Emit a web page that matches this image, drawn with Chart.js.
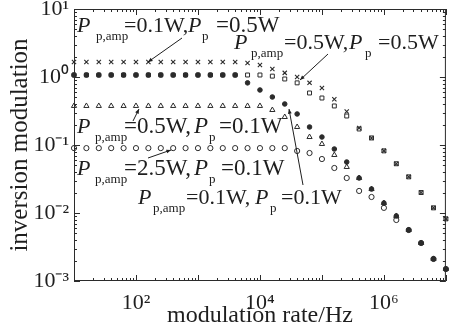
<!DOCTYPE html>
<html><head><meta charset="utf-8">
<script src="https://cdn.jsdelivr.net/npm/chart.js@4.4.1/dist/chart.umd.min.js"></script>
<style>html,body{margin:0;padding:0;background:#fff}</style>
</head><body>
<canvas id="c" width="451" height="328"></canvas>
<script>
// modulation rate (Hz), 0.2-decade steps
const freqHz = [10, 15.85, 25.12, 39.81, 63.1, 100, 158.5, 251.2, 398.1, 631, 1000, 1585, 2512, 3981, 6310,
  1e4, 15850, 25120, 39810, 63100, 1e5, 158500, 251200, 398100, 631000, 1e6, 1585000, 2512000, 3981000, 6310000, 1e7];
// Pp,amp=0.1W, Pp=0.5W  (x)
const seriesAmp01Pp05 = [1.66,1.66,1.66,1.66,1.66,1.66,1.66,1.66,1.66,1.66,1.66,1.66,1.66,1.66,
  1.61,1.50,1.31,1.15,1.0,0.82,0.69,0.47,0.31,0.178,0.127,0.082,0.053,0.034,0.020,0.0119,0.0082];
// Pp,amp=0.5W, Pp=0.5W  (square)
const seriesAmp05Pp05 = [1.07,1.07,1.07,1.07,1.07,1.07,1.07,1.07,1.07,1.07,1.07,1.07,1.07,1.07,1.07,1.07,
  1.03,0.935,0.82,0.582,0.491,0.375,0.267,0.172,0.127,0.082,0.053,0.034,0.020,0.0119,0.0082];
// Pp,amp=0.1W, Pp=0.1W  (filled dot)
const seriesAmp01Pp01 = [1.07,1.07,1.07,1.07,1.07,1.07,1.07,1.07,1.07,1.07,1.07,1.07,1.07,1.07,
  0.82,0.644,0.508,0.401,0.286,0.184,0.131,0.0873,0.0562,0.0327,0.0225,0.0140,0.00904,0.00562,0.00362,0.00211,0.00150];
// Pp,amp=0.5W, Pp=0.1W  (triangle)
const seriesAmp05Pp01 = [0.375,0.375,0.375,0.375,0.375,0.375,0.375,0.375,0.375,0.375,0.375,0.375,0.375,0.375,0.375,0.375,
  0.327,0.258,0.184,0.131,0.1035,0.0713,0.0475,0.0327,0.0225,0.0140,0.00904,0.00562,0.00362,0.00211,0.00150];
// Pp,amp=2.5W, Pp=0.1W  (open circle)
const seriesAmp25Pp01 = [0.090,0.090,0.090,0.090,0.090,0.090,0.090,0.090,0.090,0.090,0.090,0.090,0.090,0.090,0.090,0.090,0.090,0.090,
  0.0817,0.0762,0.0622,0.0459,0.0327,0.0211,0.0172,0.0119,0.00789,0.00562,0.00362,0.00211,0.00150];

const xTickLabels = {2:'10²', 4:'10⁴', 6:'10⁶'};
const yTickLabels = {1:'10¹', 0:'10⁰', '-1':'10⁻¹', '-2':'10⁻²', '-3':'10⁻³'};
const xTitle = 'modulation rate/Hz';
const yTitle = 'inversion modulation';

// annotation texts: [text, style(i=italic, n=normal, s=subscript), x, fontSize]
const annotations = [
  {y:32, parts:[['P','i',77,22],['p,amp','s',96,13],['=0.1W,','n',124,22],['P','i',188,22],['p','s',202,13],['=0.5W','n',216,23]], arrow:[182,38,148,62]},
  {y:49, parts:[['P','i',234,22],['p,amp','s',251,13],['=0.5W,','n',284,22],['P','i',349,22],['p','s',365,13],['=0.5W','n',378,22]], arrow:[328,54,300,80]},
  {y:133, parts:[['P','i',77,22],['p,amp','s',95,13],['=0.5W,','n',124,23],['P','i',194,23],['p','s',209,13],['=0.1W','n',219,23]], arrow:[133,121,139,109]},
  {y:175, parts:[['P','i',77,22],['p,amp','s',95,13],['=2.5W,','n',124,23],['P','i',194,23],['p','s',209,13],['=0.1W','n',221,23]], arrow:[148,158,171,150]},
  {y:204, parts:[['P','i',138,22],['p,amp','s',153,13],['=0.1W,','n',186,22],['P','i',255,22],['p','s',270,13],['=0.1W','n',281,22]], arrow:[303,185,289,109]}
];

const INK = '#2b2b2b';
const SERIF = '"Liberation Serif", "Times New Roman", serif';
function pts(arr){ return arr.map((v,i)=>({x:freqHz[i], y:v})); }

const tickPlugin = {
  id:'frameTicks',
  afterDatasetsDraw(chart){
    const {ctx, chartArea:a} = chart;
    ctx.save();
    ctx.strokeStyle = INK; ctx.lineWidth = 1;
    ctx.strokeRect(a.left+0.5, a.top+0.5, a.right-a.left-1, a.bottom-a.top-1);
    const isInt = v => { const e=Math.floor(Math.log10(v)+1e-9); const m=v/Math.pow(10,e); return Math.abs(m-Math.round(m))<1e-6 ? (Math.round(m)===1||Math.round(m)===10 ? 2 : 1) : 0; };
    ctx.beginPath();
    chart.scales.x.ticks.forEach(t=>{
      const k=isInt(t.value); if(!k) return;
      const px=Math.round(chart.scales.x.getPixelForValue(t.value))+0.5;
      const L = k===2?6:3;
      ctx.moveTo(px,a.bottom); ctx.lineTo(px,a.bottom-L);
      ctx.moveTo(px,a.top); ctx.lineTo(px,a.top+L);
    });
    chart.scales.y.ticks.forEach(t=>{
      const k=isInt(t.value); if(!k) return;
      const py=Math.round(chart.scales.y.getPixelForValue(t.value))+0.5;
      const L = k===2?6:3;
      ctx.moveTo(a.left,py); ctx.lineTo(a.left+L,py);
      ctx.moveTo(a.right,py); ctx.lineTo(a.right-L,py);
    });
    ctx.stroke();
    // annotations
    ctx.fillStyle = '#1e1e1e';
    ctx.textBaseline = 'alphabetic';
    annotations.forEach(an=>{
      an.parts.forEach(([txt,st,x,fs])=>{
        if(st==='i'){ ctx.font = 'italic '+fs+'px '+SERIF; ctx.fillText(txt,x,an.y); }
        else if(st==='s'){ ctx.font = fs+'px '+SERIF; ctx.fillText(txt,x,an.y+8); }
        else { ctx.font = fs+'px '+SERIF; ctx.fillText(txt,x,an.y); }
      });
      const [x1,y1,x2,y2]=an.arrow;
      ctx.strokeStyle='#1e1e1e'; ctx.lineWidth=1;
      ctx.beginPath(); ctx.moveTo(x1,y1); ctx.lineTo(x2,y2); ctx.stroke();
      const ang=Math.atan2(y2-y1,x2-x1), h=5;
      ctx.beginPath(); ctx.moveTo(x2,y2);
      ctx.lineTo(x2-h*Math.cos(ang-0.4), y2-h*Math.sin(ang-0.4));
      ctx.lineTo(x2-h*Math.cos(ang+0.4), y2-h*Math.sin(ang+0.4));
      ctx.closePath(); ctx.fill();
    });
    ctx.restore();
  }
};

new Chart(document.getElementById('c'), {
  type:'scatter',
  data:{datasets:[
    {label:'Pp,amp=2.5W,Pp=0.1W', data:pts(seriesAmp25Pp01), pointStyle:'circle', radius:2.6, borderColor:INK, backgroundColor:'rgba(0,0,0,0)', borderWidth:1, clip:false},
    {label:'Pp,amp=0.5W,Pp=0.1W', data:pts(seriesAmp05Pp01), pointStyle:'triangle', radius:3, borderColor:INK, backgroundColor:'rgba(0,0,0,0)', borderWidth:1, clip:false},
    {label:'Pp,amp=0.1W,Pp=0.1W', data:pts(seriesAmp01Pp01), pointStyle:'circle', radius:2.3, borderColor:INK, backgroundColor:INK, borderWidth:1, clip:false},
    {label:'Pp,amp=0.5W,Pp=0.5W', data:pts(seriesAmp05Pp05), pointStyle:'rect', radius:2.8, borderColor:INK, backgroundColor:'rgba(0,0,0,0)', borderWidth:1, clip:false},
    {label:'Pp,amp=0.1W,Pp=0.5W', data:pts(seriesAmp01Pp05), pointStyle:'crossRot', radius:3, borderColor:INK, borderWidth:1.1, clip:false}
  ]},
  options:{
    responsive:false, animation:false,
    layout:{padding:{top:9,right:4,left:0,bottom:0}},
    plugins:{legend:{display:false}, tooltip:{enabled:false}},
    scales:{
      x:{type:'logarithmic', min:10, max:1e7,
        grid:{display:false, drawTicks:false}, border:{display:false},
        ticks:{autoSkip:false, maxRotation:0, padding:9, color:'#1e1e1e', font:{family:SERIF, size:22},
          callback:(v)=>{ const e=Math.log10(v); const r=Math.round(e); return (Math.abs(e-r)<1e-6 && xTickLabels[r]) ? xTickLabels[r] : ''; }},
        title:{display:true, text:xTitle, color:'#1e1e1e', font:{family:SERIF, size:24, lineHeight:1}, padding:{top:0,bottom:0}},
        afterFit:(s)=>{ s.height=47; s.paddingLeft=0; s.paddingRight=0; }
      },
      y:{type:'logarithmic', min:0.001, max:10,
        grid:{display:false, drawTicks:false}, border:{display:false},
        ticks:{autoSkip:false, padding:5, color:'#1e1e1e', font:{family:SERIF, size:22},
          callback:(v)=>{ const e=Math.log10(v); const r=Math.round(e); return (Math.abs(e-r)<1e-6 && yTickLabels[r]) ? yTickLabels[r] : ''; }},
        title:{display:true, text:yTitle, color:'#1e1e1e', font:{family:SERIF, size:25, lineHeight:1}, padding:{top:8,bottom:0}},
        afterFit:(s)=>{ s.width=74; s.paddingTop=0; s.paddingBottom=0; }
      }
    }
  },
  plugins:[tickPlugin]
});
</script>
</body></html>
